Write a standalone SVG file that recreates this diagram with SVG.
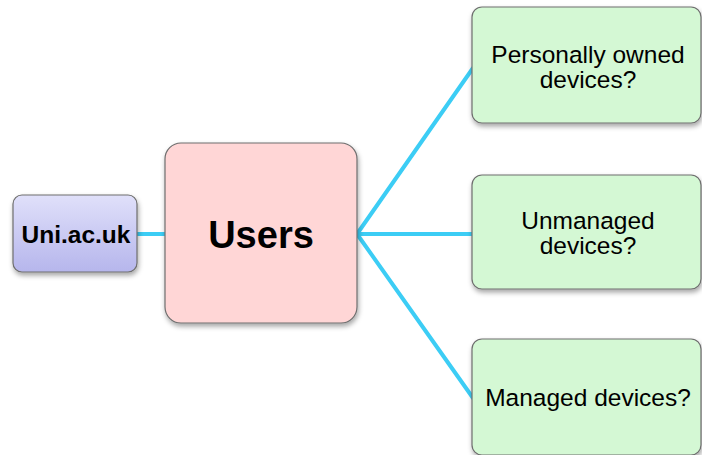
<svg xmlns="http://www.w3.org/2000/svg" width="702" height="455" viewBox="0 0 702 455">
  <defs>
    <linearGradient id="gradDomain" x1="0" y1="0" x2="0" y2="1">
      <stop offset="0" stop-color="#e0e0fa"/>
      <stop offset="1" stop-color="#b6b6ec"/>
    </linearGradient>
    <filter id="shadow" x="-20%" y="-20%" width="140%" height="140%">
      <feDropShadow dx="1" dy="3" stdDeviation="2.5" flood-color="#000" flood-opacity="0.35"/>
    </filter>
  </defs>
  <style>
    .box { stroke: #6e6e6e; stroke-width: 1.2; filter: url(#shadow); }
    .device { fill: #d4f8d4; }
    .link { stroke: #3ccdf5; stroke-width: 4; fill: none; stroke-linecap: round; }
    .label { font-family: "Liberation Sans", Arial, sans-serif; fill: #000; text-anchor: middle; }
    .small { font-size: 24.5px; }
  </style>
  <rect width="702" height="455" fill="#ffffff"/>

  <g id="connectors">
    <line class="link" x1="137" y1="234" x2="166" y2="234"/>
    <line class="link" x1="357" y1="234" x2="473" y2="68"/>
    <line class="link" x1="357" y1="234" x2="473" y2="234"/>
    <line class="link" x1="357" y1="234" x2="473" y2="398"/>
  </g>

  <g id="uni">
    <rect class="box" x="13" y="195" width="124" height="77" rx="9" fill="url(#gradDomain)"/>
    <text class="label" x="76" y="243" font-size="24.5" font-weight="bold">Uni.ac.uk</text>
  </g>

  <g id="users">
    <rect class="box" x="165" y="143" width="192" height="180" rx="16" fill="#ffd6d6"/>
    <text class="label" x="261" y="248" font-size="38" font-weight="bold">Users</text>
  </g>

  <g id="personal">
    <rect class="box device" x="472" y="7" width="229" height="116" rx="10"/>
    <text class="label small" x="588" y="63">Personally owned</text>
    <text class="label small" x="588" y="88">devices?</text>
  </g>

  <g id="unmanaged">
    <rect class="box device" x="472" y="175" width="229" height="114" rx="10"/>
    <text class="label small" x="588" y="229">Unmanaged</text>
    <text class="label small" x="588" y="254">devices?</text>
  </g>

  <g id="managed">
    <rect class="box device" x="472" y="339" width="229" height="116" rx="10"/>
    <text class="label small" x="588" y="406">Managed devices?</text>
  </g>
</svg>
